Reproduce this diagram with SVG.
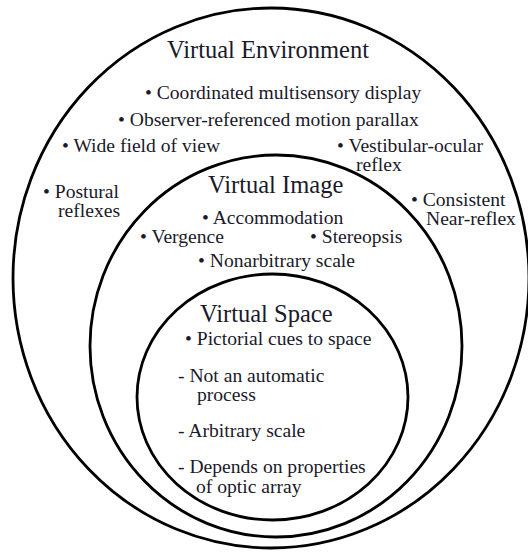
<svg xmlns="http://www.w3.org/2000/svg" width="528" height="552" viewBox="0 0 528 552">
<style>
.ring{fill:none;stroke:#000;stroke-width:2.8}
text{font-family:'Liberation Serif','DejaVu Serif',serif;fill:#1a1a2a}
.title{font-size:24.5px}
.item{font-size:19.6px}
</style>
<rect width="528" height="552" fill="#fff"/>
<g id="virtual-environment">
<ellipse class="ring" cx="271" cy="278" rx="258" ry="270"/>
<text class="title" x="167" y="58">Virtual Environment</text>
<text class="item" x="145" y="99">• Coordinated multisensory display</text>
<text class="item" x="118" y="126">• Observer-referenced motion parallax</text>
<text class="item" x="62" y="152">• Wide field of view</text>
<text class="item" x="337" y="151.5">• Vestibular-ocular</text>
<text class="item" x="356" y="171">reflex</text>
<text class="item" x="43" y="198">• Postural</text>
<text class="item" x="58" y="217">reflexes</text>
<text class="item" x="411" y="205.5">• Consistent</text>
<text class="item" x="426" y="225">Near-reflex</text>
</g>
<g id="virtual-image">
<ellipse class="ring" cx="276" cy="346" rx="186" ry="191"/>
<text class="title" x="208" y="193">Virtual Image</text>
<text class="item" x="202" y="224">• Accommodation</text>
<text class="item" x="140" y="243">• Vergence</text>
<text class="item" x="310" y="243">• Stereopsis</text>
<text class="item" x="198" y="267">• Nonarbitrary scale</text>
</g>
<g id="virtual-space">
<ellipse class="ring" cx="272.5" cy="397" rx="135.5" ry="123"/>
<text class="title" x="200" y="322">Virtual Space</text>
<text class="item" x="185" y="345">• Pictorial cues to space</text>
<text class="item" x="178" y="381.5">- Not an automatic</text>
<text class="item" x="197" y="401">process</text>
<text class="item" x="178" y="437">- Arbitrary scale</text>
<text class="item" x="178" y="473">- Depends on properties</text>
<text class="item" x="196" y="493">of optic array</text>
</g>
</svg>
